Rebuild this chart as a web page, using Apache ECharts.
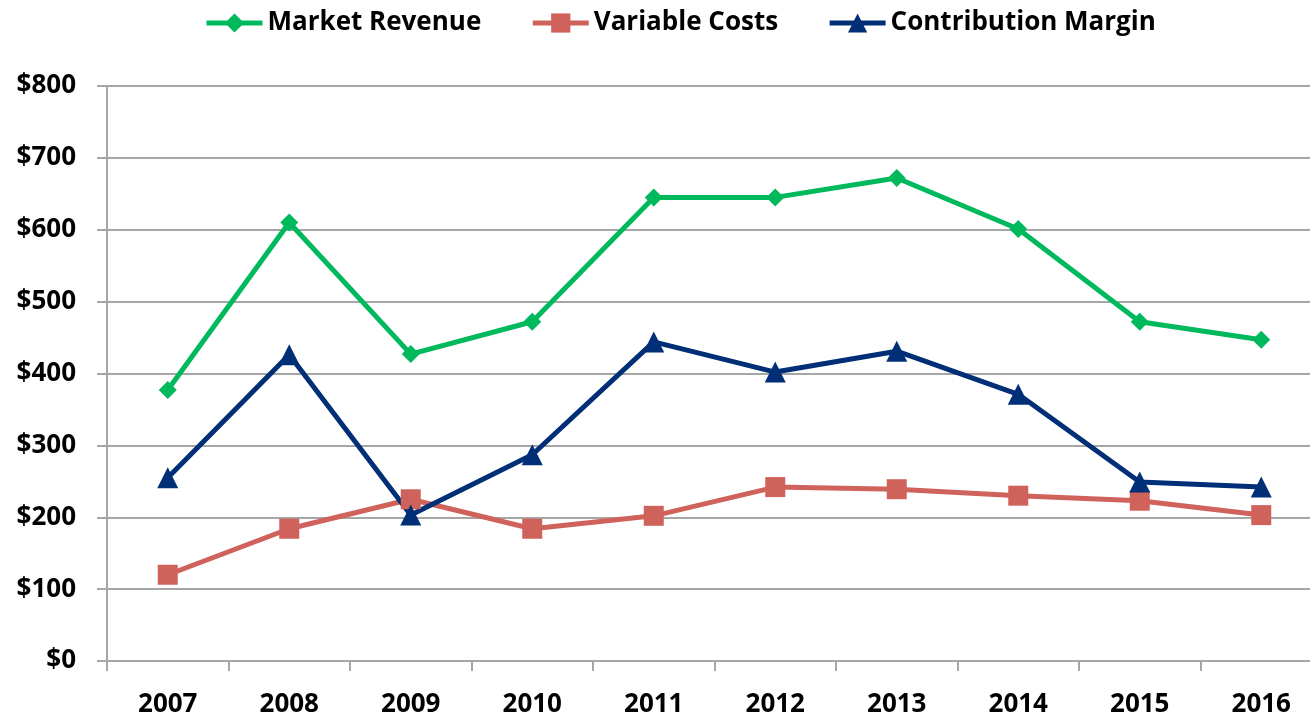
<!DOCTYPE html>
<html>
<head>
<meta charset="utf-8">
<script src="https://cdn.jsdelivr.net/npm/echarts@6/dist/echarts.min.js"></script>
<style>
    html, body { margin: 0; padding: 0; background: #fff; overflow: hidden; }
    /* 比窗口略宽，最后一个分类带在右边被截掉 */
    #chart { width: 1322px; height: 720px; }
</style>
</head>
<body>
<div id="chart"></div>
<script>
// 数据
const years = ['2007', '2008', '2009', '2010', '2011', '2012', '2013', '2014', '2015', '2016'];
const marketRevenue = [377, 610, 427, 472, 645, 645, 672, 601, 472, 447];
const variableCosts = [120, 184, 225, 184, 202, 242, 239, 230, 223, 203];
const contributionMargin = [255, 426, 203, 287, 444, 402, 431, 371, 249, 242];

const font = '"Open Sans", Lato, sans-serif';

let mychart = echarts.init(document.getElementById('chart'));
mychart.setOption({
    animation: false,
    legend: {
        top: 5,
        left: 199,
        itemGap: 49,
        itemWidth: 56,
        itemHeight: 24,
        lineStyle: { width: 5 },
        textStyle: { color: '#000', fontSize: 26, fontWeight: 'bold', fontFamily: font }
    },
    grid: { left: 107, right: 0, top: 86, bottom: 59 },
    xAxis: {
        type: 'category',
        data: years,
        boundaryGap: true,
        axisLine: { lineStyle: { color: '#a6a6a6', width: 2 } },
        axisTick: { show: true, length: 10, lineStyle: { color: '#a6a6a6', width: 2 } },
        axisLabel: { color: '#000', fontSize: 26, fontWeight: 'bold', fontFamily: font, margin: 31 }
    },
    yAxis: {
        type: 'value',
        min: 0,
        max: 800,
        interval: 100,
        axisLine: { show: true, lineStyle: { color: '#a6a6a6', width: 2 } },
        axisTick: { show: true, length: 10, lineStyle: { color: '#a6a6a6', width: 2 } },
        splitLine: { lineStyle: { color: '#a6a6a6', width: 2 } },
        axisLabel: {
            color: '#000', fontSize: 26, fontWeight: 'bold', fontFamily: font, margin: 31,
            formatter: v => '$' + v
        }
    },
    series: [
        {
            name: 'Market Revenue',
            type: 'line',
            data: marketRevenue,
            symbol: 'diamond',
            symbolSize: 18,
            lineStyle: { color: '#00b95c', width: 5 },
            itemStyle: { color: '#00b95c' }
        },
        {
            name: 'Variable Costs',
            type: 'line',
            data: variableCosts,
            symbol: 'rect',
            symbolSize: 20,
            lineStyle: { color: '#d0625c', width: 5 },
            itemStyle: { color: '#d0625c' }
        },
        {
            name: 'Contribution Margin',
            type: 'line',
            data: contributionMargin,
            symbol: 'triangle',
            symbolSize: 21,
            lineStyle: { color: '#002f77', width: 5 },
            itemStyle: { color: '#002f77' }
        }
    ]
});
</script>
</body>
</html>
